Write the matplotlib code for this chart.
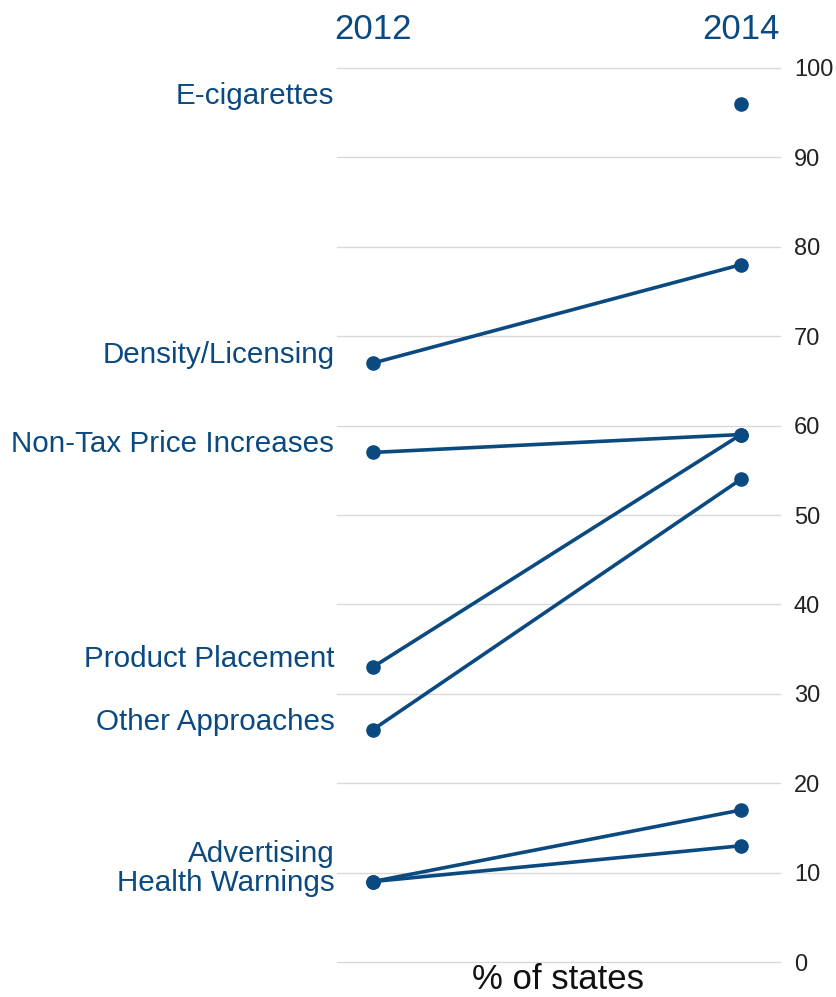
import matplotlib
matplotlib.use("Agg")
import matplotlib.pyplot as plt
import numpy as np

years = ["2012", "2014"]
categories = ["E-cigarettes", "Density/Licensing", "Non-Tax Price Increases",
              "Product Placement", "Other Approaches", "Advertising", "Health Warnings"]
pct_2012 = [np.nan, 67, 57, 33, 26, 9, 9]
pct_2014 = [96, 78, 59, 59, 54, 17, 13]
yticks = [0, 10, 20, 30, 40, 50, 60, 70, 80, 90, 100]

# small nudges so the two bottom labels do not overlap
label_nudge = {"Advertising": 2.2, "Health Warnings": -1.1}

blue = "#0b4a80"
plt.rcParams["font.family"] = ["Liberation Sans", "DejaVu Sans"]

fig = plt.figure(figsize=(8.37, 9.97), dpi=100)
ax = fig.add_axes([0.4026, 0.0351, 0.5293, 0.8967])

for name, a, b in zip(categories, pct_2012, pct_2014):
    if np.isnan(a):
        ax.plot([1], [b], "o", color=blue, markersize=9.5, zorder=3)
        ly = b
    else:
        ax.plot([0, 1], [a, b], "-o", color=blue, lw=2.6, markersize=9.5, zorder=3)
        ly = a
    ly += label_nudge.get(name, 0)
    ax.text(-0.105, ly, name, ha="right", va="baseline", fontsize=21.3,
            color=blue, clip_on=False)

ax.set_xlim(-0.098, 1.106)
ax.set_ylim(0, 100)
ax.set_yticks(yticks)
ax.yaxis.tick_right()
ax.tick_params(axis="y", length=0, pad=10, labelsize=17, labelcolor="#222222")
ax.set_xticks([])
ax.grid(axis="y", color="#d9d9d9", lw=1, clip_on=False)
ax.set_axisbelow(True)
for s in ax.spines.values():
    s.set_visible(False)

for i, yr in enumerate(years):
    ax.text(i, 1.043, yr, transform=ax.get_xaxis_transform(), ha="center",
            va="center", fontsize=25, color=blue)

ax.text(0.5, -0.02, "% of states", transform=ax.transAxes, ha="center",
        va="center", fontsize=25, color="#111111")

fig.savefig("out.png", dpi=100)
